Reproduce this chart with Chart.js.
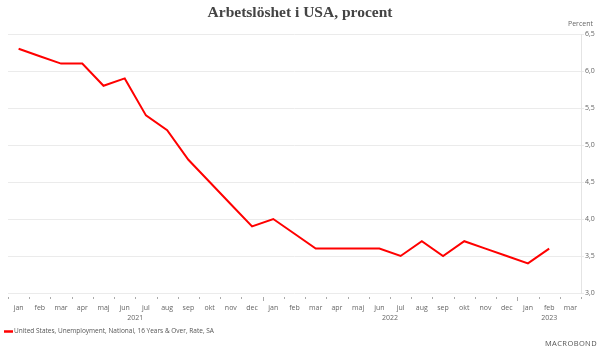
<!DOCTYPE html>
<html><head><meta charset="utf-8">
<script src="https://cdn.jsdelivr.net/npm/chart.js@4"></script>
<style>html,body{margin:0;padding:0;background:#fff}#wrap{width:600px;height:353px;position:relative}</style>
</head><body><div id="wrap"><canvas id="c"></canvas></div>
<script>
const chartTitle = 'Arbetslöshet i USA, procent';
const unitLabel = 'Percent';
const seriesName = 'United States, Unemployment, National, 16 Years & Over, Rate, SA';
const months = ['jan','feb','mar','apr','maj','jun','jul','aug','sep','okt','nov','dec',
                'jan','feb','mar','apr','maj','jun','jul','aug','sep','okt','nov','dec',
                'jan','feb','mar'];
const years = [2021,2021,2021,2021,2021,2021,2021,2021,2021,2021,2021,2021,
               2022,2022,2022,2022,2022,2022,2022,2022,2022,2022,2022,2022,
               2023,2023,2023];
const unemployment = [6.3,6.2,6.1,6.1,5.8,5.9,5.4,5.2,4.8,4.5,4.2,3.9,
                      4.0,3.8,3.6,3.6,3.6,3.6,3.5,3.7,3.5,3.7,3.6,3.5,
                      3.4,3.6,null];
const yMin = 3.0, yMax = 6.5, yStep = 0.5;

const extras = {
  id: 'extras',
  afterDraw(chart) {
    const ctx = chart.ctx, x = chart.scales.x, ca = chart.chartArea;
    ctx.save();
    // title
    ctx.fillStyle = '#444';
    ctx.font = 'bold 15.5px "Liberation Serif"';
    ctx.textAlign = 'center'; ctx.textBaseline = 'middle';
    ctx.fillText(chartTitle, 300, 12.5);
    // unit
    ctx.font = '7px "Open Sans"';
    ctx.fillStyle = '#666';
    ctx.textAlign = 'right';
    ctx.fillText(unitLabel, 593, 24);
    // category boundary ticks
    const step = x.getPixelForValue(1) - x.getPixelForValue(0);
    ctx.strokeStyle = '#aaa'; ctx.lineWidth = 1;
    for (let i = 0; i <= months.length; i++) {
      const bx = Math.round(x.getPixelForValue(0) - step / 2 + i * step) + 0.5;
      const isYear = i > 0 && i < years.length && years[i] !== years[i - 1];
      ctx.beginPath();
      ctx.moveTo(bx, ca.bottom + 4);
      ctx.lineTo(bx, ca.bottom + (isYear ? 8 : 6));
      ctx.stroke();
    }
    // year labels
    ctx.textAlign = 'center';
    const groups = {};
    years.forEach((y, i) => { (groups[y] = groups[y] || []).push(i); });
    Object.keys(groups).forEach(y => {
      const idx = groups[y];
      const c = (x.getPixelForValue(idx[0]) + x.getPixelForValue(idx[idx.length - 1])) / 2;
      ctx.fillStyle = '#666';
      ctx.font = '7px "Open Sans"';
      ctx.fillText(y, c, 318);
    });
    // legend
    ctx.strokeStyle = '#ff0000'; ctx.lineWidth = 2.5;
    ctx.beginPath(); ctx.moveTo(4, 331.5); ctx.lineTo(13, 331.5); ctx.stroke();
    ctx.fillStyle = '#555'; ctx.textAlign = 'left';
    ctx.font = '6.5px "Open Sans"';
    ctx.fillText(seriesName, 14, 331.5);
    // brand
    ctx.font = '7.5px "Open Sans"'; ctx.fillStyle = '#555'; ctx.textAlign = 'right';
    try { ctx.letterSpacing = '0.4px'; } catch (e) {}
    ctx.fillText('MACROBOND', 597, 344);
    ctx.restore();
  }
};

new Chart(document.getElementById('c'), {
  type: 'line',
  data: {
    labels: months,
    datasets: [{
      label: seriesName,
      data: unemployment,
      borderColor: '#ff0000',
      backgroundColor: '#ff0000',
      borderWidth: 2,
      pointRadius: 0,
      tension: 0,
      spanGaps: false
    }]
  },
  options: {
    responsive: true,
    maintainAspectRatio: false,
    animation: false,
    layout: { padding: { top: 34, left: 8, right: 0, bottom: 0 } },
    plugins: { legend: { display: false }, title: { display: false }, tooltip: { enabled: false } },
    scales: {
      x: {
        type: 'category',
        offset: true,
        grid: { drawOnChartArea: false, drawTicks: false, offset: true },
        border: { display: false },
        ticks: { autoSkip: false, maxRotation: 0, minRotation: 0, padding: 11, color: '#666', font: { family: 'Open Sans', size: 7 } },
        afterFit: s => { s.height = 60; }
      },
      y: {
        position: 'right',
        min: yMin, max: yMax,
        ticks: { stepSize: yStep, padding: 1, color: '#666', font: { family: 'Open Sans', size: 7 },
                 callback: v => Number(v).toFixed(1).replace('.', ',') },
        grid: { color: '#ebebeb', tickLength: 3, drawTicks: true },
        border: { display: true, color: '#e4e4e4' },
        afterFit: s => { s.width = 19; }
      }
    }
  },
  plugins: [extras]
});
</script></body></html>
